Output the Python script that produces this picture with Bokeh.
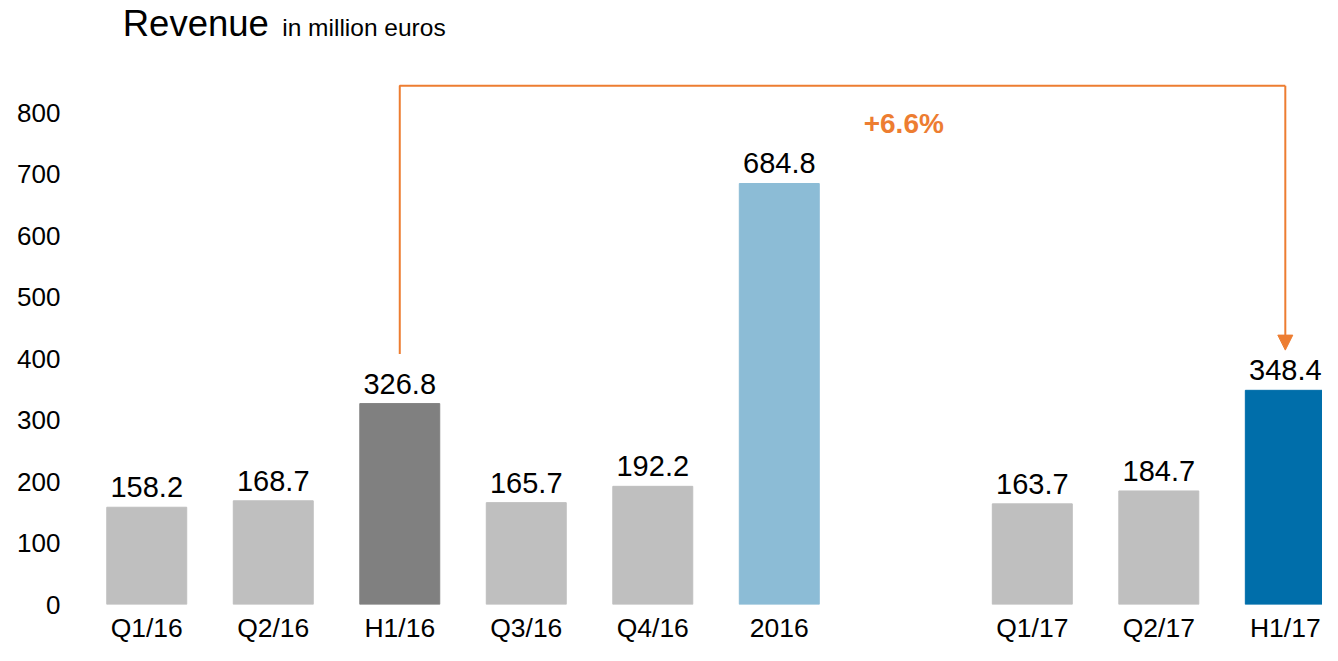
from bokeh.plotting import figure
from bokeh.models import ColumnDataSource, FixedTicker, Label, Arrow, NormalHead, Range1d
from bokeh.core.properties import value
from bokeh.embed import file_html
from bokeh.resources import INLINE

# ---- data ----
categories = ["Q1/16", "Q2/16", "H1/16", "Q3/16", "Q4/16", "2016", "Q1/17", "Q2/17", "H1/17"]
revenue = [158.2, 168.7, 326.8, 165.7, 192.2, 684.8, 163.7, 184.7, 348.4]
bar_colors = ["#BFBFBF", "#BFBFBF", "#808080", "#BFBFBF", "#BFBFBF", "#8CBCD6",
              "#BFBFBF", "#BFBFBF", "#006EAA"]
y_ticks = [0, 100, 200, 300, 400, 500, 600, 700, 800]
growth_label = "+6.6%"
title_main = "Revenue"
title_unit = "in million euros"

FONT = "Liberation Sans"
ORANGE = "#ED7D31"

# slot positions: a one-slot gap after the full-year 2016 bar
positions = [i + (1 if i > categories.index("2016") else 0) for i in range(len(categories))]
label_y = [v + 32.6 for v in revenue]

src = ColumnDataSource(dict(x=positions, top=revenue, color=bar_colors,
                            text=[f"{v:.1f}" for v in revenue], ly=label_y))

p = figure(width=1322, height=645, output_backend="svg", toolbar_location=None,
           x_range=Range1d(-0.5, 9.294), y_range=Range1d(0, 982.5),
           min_border_left=83, min_border_right=0, min_border_top=0, min_border_bottom=0)

p.vbar(x="x", top="top", width=0.632, color="color", source=src)
p.text(x="x", y="ly", text="text", source=src, text_align="center", text_baseline="middle",
       text_font=value(FONT), text_font_size="29px", text_color="black")

# axes
p.xaxis.ticker = FixedTicker(ticks=positions)
p.xaxis.major_label_overrides = {pos: cat for pos, cat in zip(positions, categories)}
p.yaxis.ticker = FixedTicker(ticks=y_ticks)
for ax in (p.xaxis, p.yaxis):
    ax.axis_line_color = None
    ax.major_tick_line_color = None
    ax.minor_tick_line_color = None
    ax.major_tick_out = 0
    ax.major_tick_in = 0
    ax.major_label_text_font = FONT
    ax.major_label_text_color = "black"
p.xaxis.major_label_text_font_size = "26.5px"
p.yaxis.major_label_text_font_size = "26px"
p.xaxis.major_label_standoff = 8
p.yaxis.major_label_standoff = 23

p.xgrid.visible = False
p.ygrid.visible = False
p.outline_line_color = None
p.background_fill_color = "white"
p.border_fill_color = "white"

# growth bracket from H1/16 to H1/17
i_from = categories.index("H1/16")
i_to = categories.index("H1/17")
x_from = positions[i_from]
x_to = positions[i_to]
y_top = 844
p.line(x=[x_from, x_from, x_to], y=[revenue[i_from] + 80.5, y_top, y_top],
       line_color=ORANGE, line_width=2)
p.add_layout(Arrow(x_start=x_to, y_start=y_top, x_end=x_to, y_end=revenue[i_to] + 65.4,
                   line_color=ORANGE, line_width=2,
                   end=NormalHead(size=15, fill_color=ORANGE, line_color=ORANGE)))
p.add_layout(Label(x=5.984, y=782, text=growth_label, text_align="center", text_baseline="middle",
                   text_font=FONT, text_font_size="28px", text_font_style="bold",
                   text_color=ORANGE))

# title
p.add_layout(Label(x=-0.19, y=945, text=title_main, text_font=FONT, text_font_size="36.5px",
                   text_color="black", text_baseline="middle"))
p.add_layout(Label(x=1.071, y=939, text=title_unit, text_font=FONT, text_font_size="24.5px",
                   text_color="black", text_baseline="middle"))

open("out.html", "w").write(file_html(p, INLINE))
